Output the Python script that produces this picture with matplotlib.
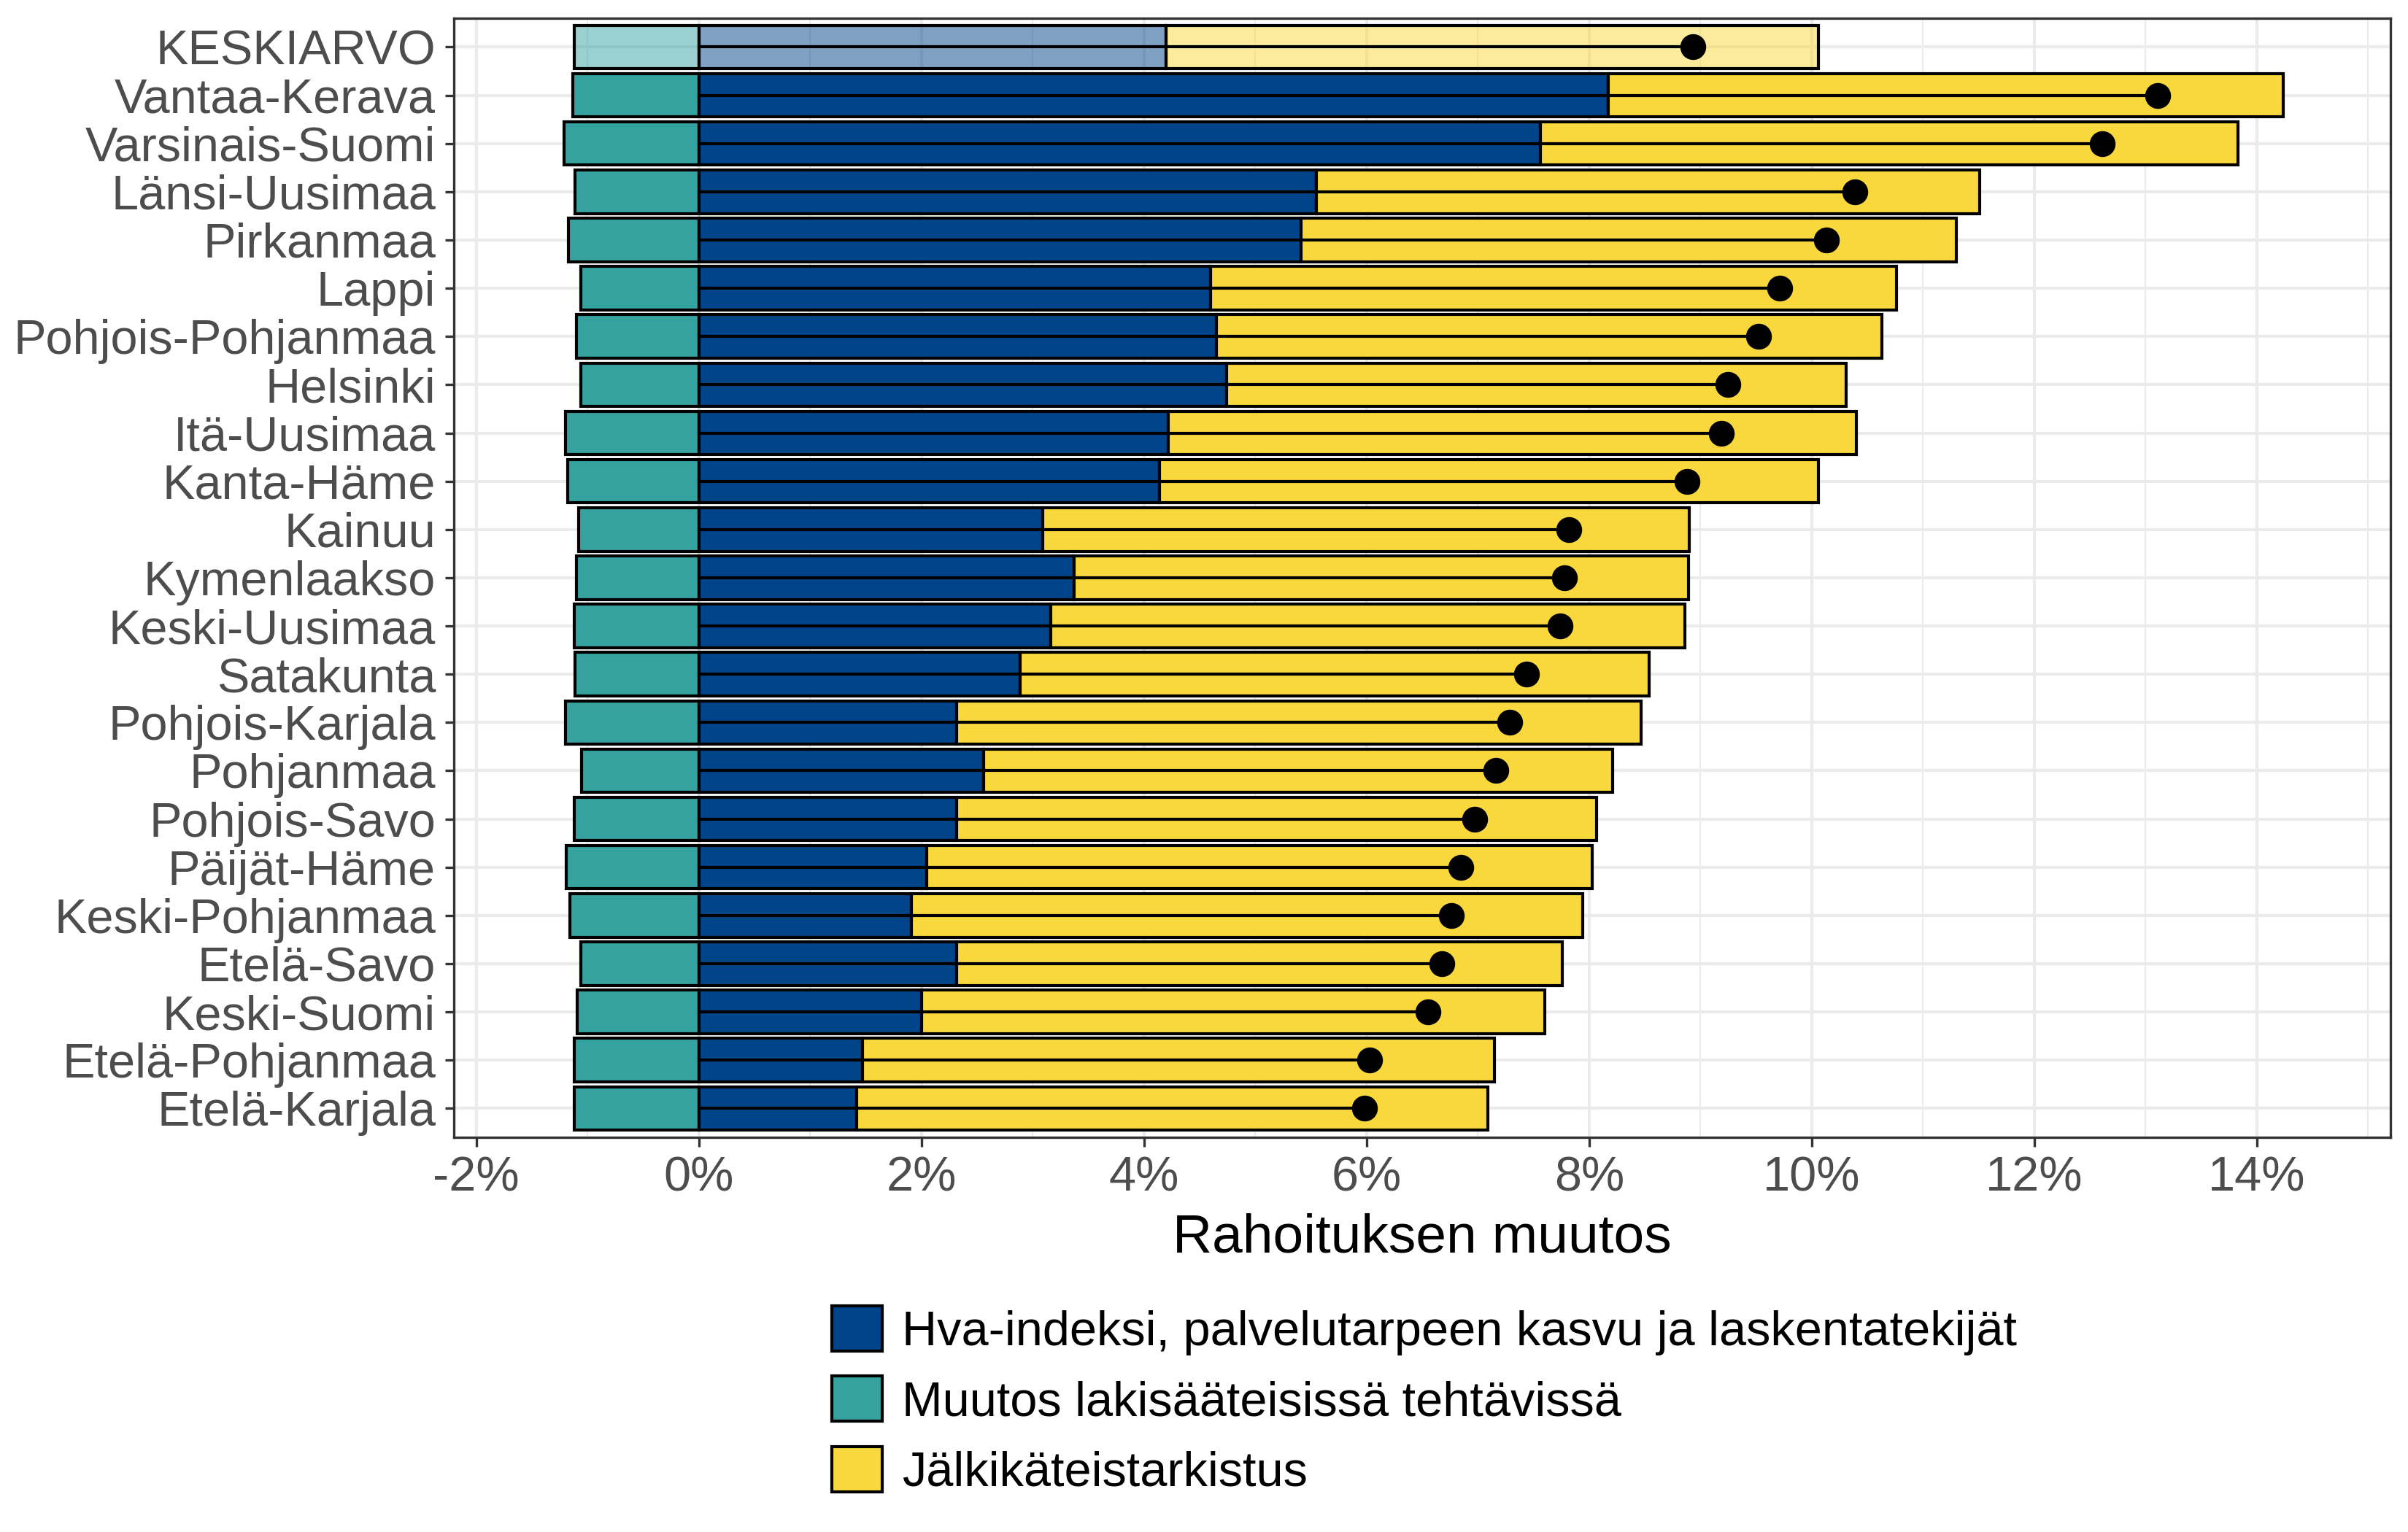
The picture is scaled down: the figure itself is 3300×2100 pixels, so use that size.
import matplotlib
matplotlib.use("Agg")
import matplotlib.pyplot as plt
from matplotlib.patches import Patch
from matplotlib.colors import to_rgba
import matplotlib.ticker as ticker

plt.rcParams['font.family'] = ['Liberation Sans', 'DejaVu Sans']

# alueet ylhäältä alas
alueet = ["KESKIARVO", "Vantaa-Kerava", "Varsinais-Suomi", "Länsi-Uusimaa", "Pirkanmaa",
          "Lappi", "Pohjois-Pohjanmaa", "Helsinki", "Itä-Uusimaa", "Kanta-Häme",
          "Kainuu", "Kymenlaakso", "Keski-Uusimaa", "Satakunta", "Pohjois-Karjala",
          "Pohjanmaa", "Pohjois-Savo", "Päijät-Häme", "Keski-Pohjanmaa", "Etelä-Savo",
          "Keski-Suomi", "Etelä-Pohjanmaa", "Etelä-Karjala"]

# muutos lakisääteisissä tehtävissä (%)
tehtavat = [-1.12, -1.13, -1.21, -1.11, -1.17, -1.06, -1.10, -1.06, -1.20, -1.18,
            -1.08, -1.10, -1.12, -1.11, -1.20, -1.05, -1.12, -1.19, -1.16, -1.06,
            -1.09, -1.12, -1.12]

# hva-indeksi, palvelutarpeen kasvu ja laskentatekijät (%)
hva = [4.20, 8.17, 7.56, 5.55, 5.41, 4.60, 4.65, 4.74, 4.22, 4.14,
       3.09, 3.37, 3.16, 2.89, 2.32, 2.56, 2.32, 2.05, 1.91, 2.32,
       2.00, 1.47, 1.42]

# bar end after jälkikäteistarkistus (%)
yhteensa = [10.06, 14.24, 13.83, 11.51, 11.30, 10.76, 10.63, 10.31, 10.40, 10.06,
            8.90, 8.89, 8.86, 8.54, 8.47, 8.21, 8.07, 8.03, 7.94, 7.76,
            7.60, 7.15, 7.09]

# net change (dots)
netto = [8.93, 13.11, 12.61, 10.39, 10.13, 9.71, 9.52, 9.25, 9.19, 8.88,
         7.82, 7.78, 7.74, 7.44, 7.29, 7.16, 6.97, 6.85, 6.76, 6.68,
         6.55, 6.03, 5.98]

jalki = [t - h for t, h in zip(yhteensa, hva)]

blue = '#01448A'
teal = '#36A2A0'
yellow = '#F9D83D'

fig = plt.figure(figsize=(11, 7), dpi=300)
ax = fig.add_axes([0.1885, 0.2576, 0.8042, 0.7306])

n = len(alueet)
ypos = [n - 1 - i for i in range(n)]

for i in range(n):
    a = 0.5 if alueet[i] == "KESKIARVO" else 1.0
    y = ypos[i]
    ax.barh(y, tehtavat[i], height=0.9, color=to_rgba(teal, a), edgecolor='black', linewidth=1.0, zorder=2)
    ax.barh(y, hva[i], height=0.9, color=to_rgba(blue, a), edgecolor='black', linewidth=1.0, zorder=2)
    ax.barh(y, jalki[i], left=hva[i], height=0.9, color=to_rgba(yellow, a), edgecolor='black', linewidth=1.0, zorder=2)
    ax.plot([0, netto[i]], [y, y], color='black', linewidth=1.0, zorder=3)
    ax.plot(netto[i], y, 'o', color='black', markersize=7.5, zorder=4)

ax.set_xlim(-2.2, 15.2)
ax.set_ylim(-0.6, n - 0.4)
ax.set_yticks(ypos)
ax.set_yticklabels(alueet)
ax.xaxis.set_major_locator(ticker.MultipleLocator(2))
ax.xaxis.set_minor_locator(ticker.MultipleLocator(1))
ax.xaxis.set_major_formatter(ticker.FuncFormatter(lambda v, p: f"{v:.0f}%"))
ax.tick_params(axis='both', which='major', labelsize=16, labelcolor='#4D4D4D',
               color='#333333', length=3, width=0.8, pad=3)
ax.tick_params(axis='x', which='minor', length=0)
ax.grid(which='major', color='#EBEBEB', linewidth=1.0, zorder=0)
ax.grid(which='minor', axis='x', color='#EBEBEB', linewidth=0.5, zorder=0)
ax.set_axisbelow(True)
for s in ax.spines.values():
    s.set_color('#333333')
    s.set_linewidth(0.8)

ax.set_xlabel("Rahoituksen muutos", fontsize=18, labelpad=4)

handles = [Patch(facecolor=blue, edgecolor='black', linewidth=1.0, label="Hva-indeksi, palvelutarpeen kasvu ja laskentatekijät"),
           Patch(facecolor=teal, edgecolor='black', linewidth=1.0, label="Muutos lakisääteisissä tehtävissä"),
           Patch(facecolor=yellow, edgecolor='black', linewidth=1.0, label="Jälkikäteistarkistus")]
fig.legend(handles=handles, loc='upper left', bbox_to_anchor=(0.3455, 0.1476), frameon=False,
           fontsize=16, handlelength=1.04, handleheight=1.05, handletextpad=0.4,
           labelspacing=0.43, borderaxespad=0, borderpad=0)

fig.savefig("out.png", dpi=300)
